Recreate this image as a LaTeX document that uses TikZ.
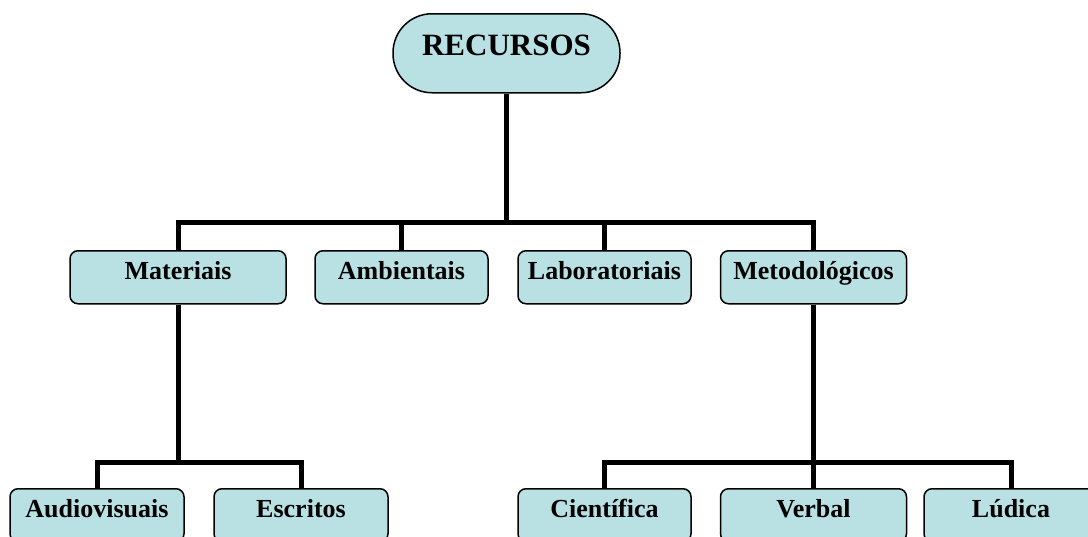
\documentclass[tikz,border=0pt]{standalone}
\usepackage{fontspec}
\setmainfont{Liberation Serif}
\usepackage{tikz}
\definecolor{caixaazul}{HTML}{B9E0E3}

\begin{document}
\begin{tikzpicture}[x=1pt,y=-1pt,
    caixa/.style={draw,line width=1.5pt,fill=caixaazul,rounded corners=8pt,
      inner sep=0pt,text height=29pt,text depth=24pt,anchor=north,
      font=\fontsize{26}{30}\selectfont\bfseries},
    topo/.style={draw,line width=1.5pt,fill=caixaazul,rounded corners=39pt,
      inner sep=0pt,text height=42pt,text depth=37pt,minimum width=227pt,
      anchor=north,font=\fontsize{31}{36}\selectfont\bfseries},
    ramo/.style={line width=5pt}]
  \useasboundingbox (0,0) rectangle (1088,536);
  \clip (0,0) rectangle (1088,536);
  % Raiz
  \node[topo] (rec) at (506.5,13) {RECURSOS};
  % Segundo nível
  \node[caixa,minimum width=216pt] (mat) at (178,250) {Materiais};
  \node[caixa,minimum width=173pt] (amb) at (401.5,250) {Ambientais};
  \node[caixa,minimum width=173pt] (lab) at (604.5,250) {Laboratoriais};
  \node[caixa,minimum width=186pt] (met) at (813.5,250) {Metodológicos};
  % Terceiro nível
  \node[caixa,minimum width=174pt] (aud) at (97,488) {Audiovisuais};
  \node[caixa,minimum width=174pt] (esc) at (301,488) {Escritos};
  \node[caixa,minimum width=173pt] (cie) at (604.5,488) {Científica};
  \node[caixa,minimum width=186pt] (ver) at (813.5,488) {Verbal};
  \node[caixa,minimum width=174pt] (lud) at (1011,488) {Lúdica};
  % Ligações
  \coordinate (j1) at (rec.south |- 0,222);
  \coordinate (j2) at (mat.south |- 0,462);
  \coordinate (j3) at (met.south |- 0,462);
  \draw[ramo] (rec.south) -- (j1);
  \draw[ramo] (mat.north) |- (j1) -| (met.north);
  \draw[ramo] (amb.north) -- (amb.north |- j1);
  \draw[ramo] (lab.north) -- (lab.north |- j1);
  \draw[ramo] (mat.south) -- (j2);
  \draw[ramo] (aud.north) |- (j2) -| (esc.north);
  \draw[ramo] (met.south) -- (j3);
  \draw[ramo] (cie.north) |- (j3) -| (lud.north);
  \draw[ramo] (ver.north) -- (j3);
\end{tikzpicture}
\end{document}
